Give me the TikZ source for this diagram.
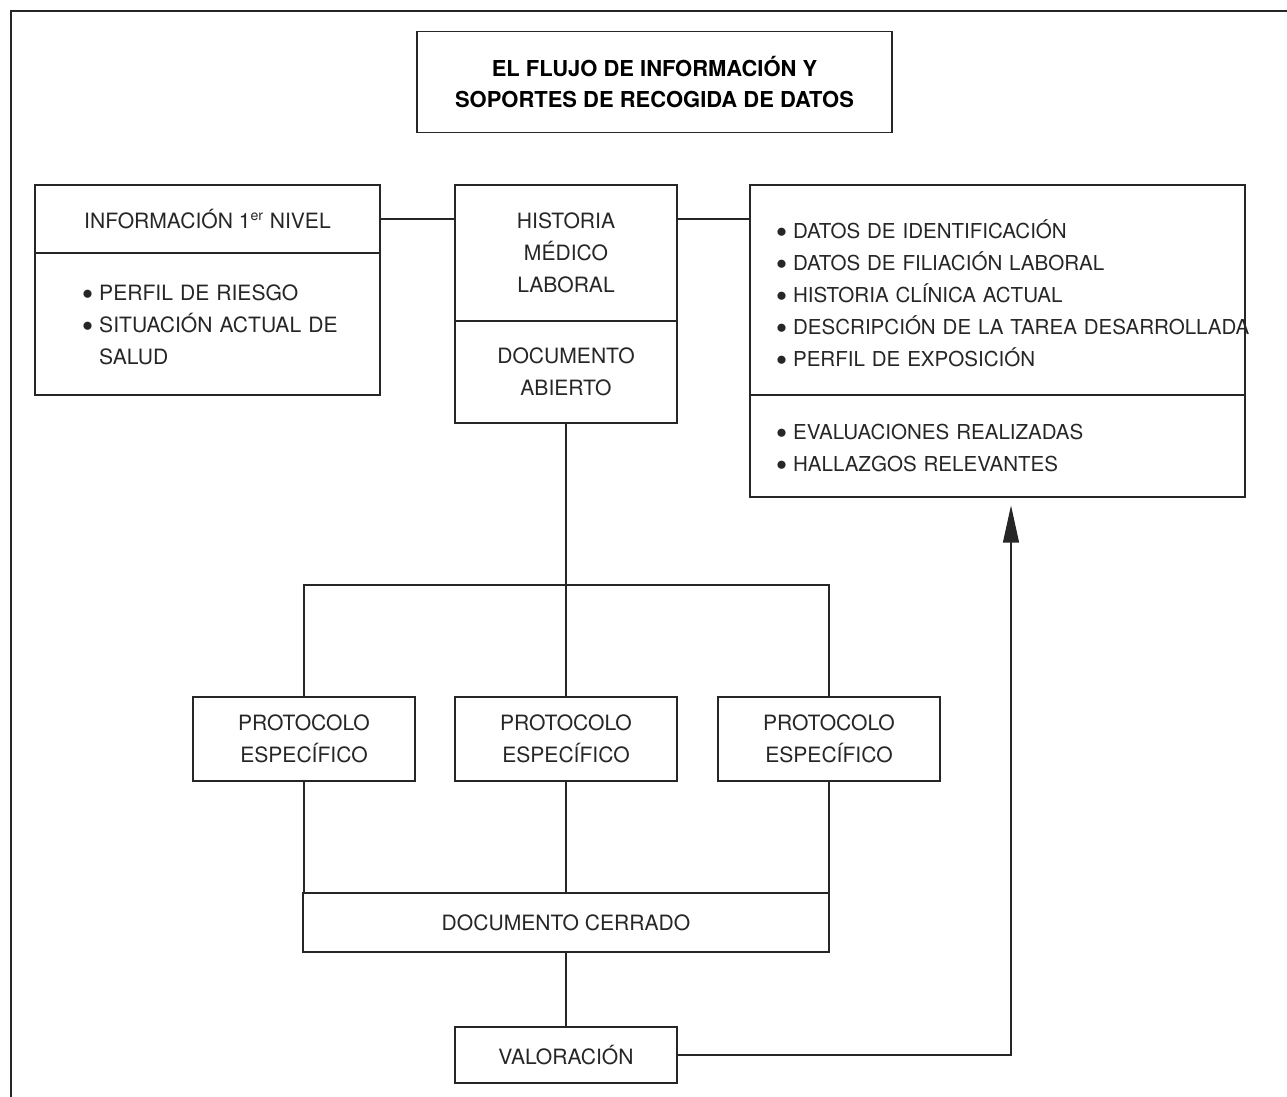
\documentclass[tikz,border=0pt]{standalone}
\usepackage{fontspec}
\setmainfont{TeX Gyre Heros}
\usepackage{tikz}
\usetikzlibrary{arrows.meta}

\tikzset{
  blk/.style 2 args={draw, line width=0.6pt, minimum width=#1*0.02cm,
    minimum height=#2*0.02cm, inner sep=0pt, align=center},
  lst/.style={align=left, text width=#1*0.02cm, inner sep=0pt},
  conn/.style={line width=0.6pt}
}
\newcommand{\bul}{\raisebox{0.1ex}{$\bullet$}\hspace{0.3em}}

\begin{document}
\begin{tikzpicture}[x=0.02cm, y=-0.02cm,
  font=\fontsize{12}{18.2}\selectfont, black!85]
\useasboundingbox (0,0) rectangle (1287,1097);

% frame
\draw[conn] (1287,11) -- (11,11) -- (11,1097);

% title
\node[blk={475}{101}, font=\bfseries\fontsize{12.5}{18}\selectfont, text=black]
  (titulo) at (654.5,82) {EL FLUJO DE INFORMACIÓN Y\\SOPORTES DE RECOGIDA DE DATOS};

% informacion de primer nivel
\node[blk={345}{68}] (infotop) at (207.5,219) {INFORMACIÓN 1\textsuperscript{er} NIVEL};
\node[blk={345}{142}] (infobot) at (207.5,324) {};
\node[lst=280, anchor=west] at (82,325)
  {\bul PERFIL DE RIESGO\\\bul SITUACIÓN ACTUAL DE\\\hphantom{\bul}SALUD};

% historia
\node[blk={222}{136}] (histtop) at (566,253) {HISTORIA\\MÉDICO\\LABORAL};
\node[blk={222}{102}] (histbot) at (566,372) {DOCUMENTO\\ABIERTO};

% datos
\node[blk={495}{210}] (datostop) at (997.5,290) {};
\node[lst=520, anchor=west, font=\fontsize{11.7}{18.2}\selectfont] at (776,293)
  {\bul DATOS DE IDENTIFICACIÓN\\\bul DATOS DE FILIACIÓN LABORAL\\
   \bul HISTORIA CLÍNICA ACTUAL\\\bul DESCRIPCIÓN DE LA TAREA DESARROLLADA\\
   \bul PERFIL DE EXPOSICIÓN};
\node[blk={495}{102}] (datosbot) at (997.5,446) {};
\node[lst=520, anchor=west, font=\fontsize{11.7}{18.2}\selectfont] at (776,448)
  {\bul EVALUACIONES REALIZADAS\\\bul HALLAZGOS RELEVANTES};

% protocolos
\node[blk={222}{84}] (prot1) at (304,739) {PROTOCOLO\\ESPECÍFICO};
\node[blk={222}{84}] (prot2) at (566,739) {PROTOCOLO\\ESPECÍFICO};
\node[blk={222}{84}] (prot3) at (829,739) {PROTOCOLO\\ESPECÍFICO};

\node[blk={526}{59}] (cerrado) at (566,922.5) {DOCUMENTO CERRADO};
\node[blk={222}{56}] (valor) at (566,1055) {VALORACIÓN};

\coordinate (split) at (566,585);
\coordinate (turn) at (1011,1055);

% connectors
\draw[conn] (infotop.east) -- (infotop.east -| histtop.west);
\draw[conn] (histtop.east |- infotop.east) -- (infotop.east -| datostop.west);
\draw[conn] (histbot.south) -- (split);
\draw[conn] (prot1.north) |- (split) -| (prot3.north);
\draw[conn] (split) -- (prot2.north);
\draw[conn] (prot1.south) -- (prot1.south |- cerrado.north);
\draw[conn] (prot2.south) -- (prot2.south |- cerrado.north);
\draw[conn] (prot3.south) -- (prot3.south |- cerrado.north);
\draw[conn] (cerrado.south) -- (valor.north);
\draw[conn, -{Triangle[length=0.74cm, width=0.32cm]}, shorten >=0.16cm]
  (valor.east) -- (turn) -- (turn |- datosbot.south);
\end{tikzpicture}
\end{document}
